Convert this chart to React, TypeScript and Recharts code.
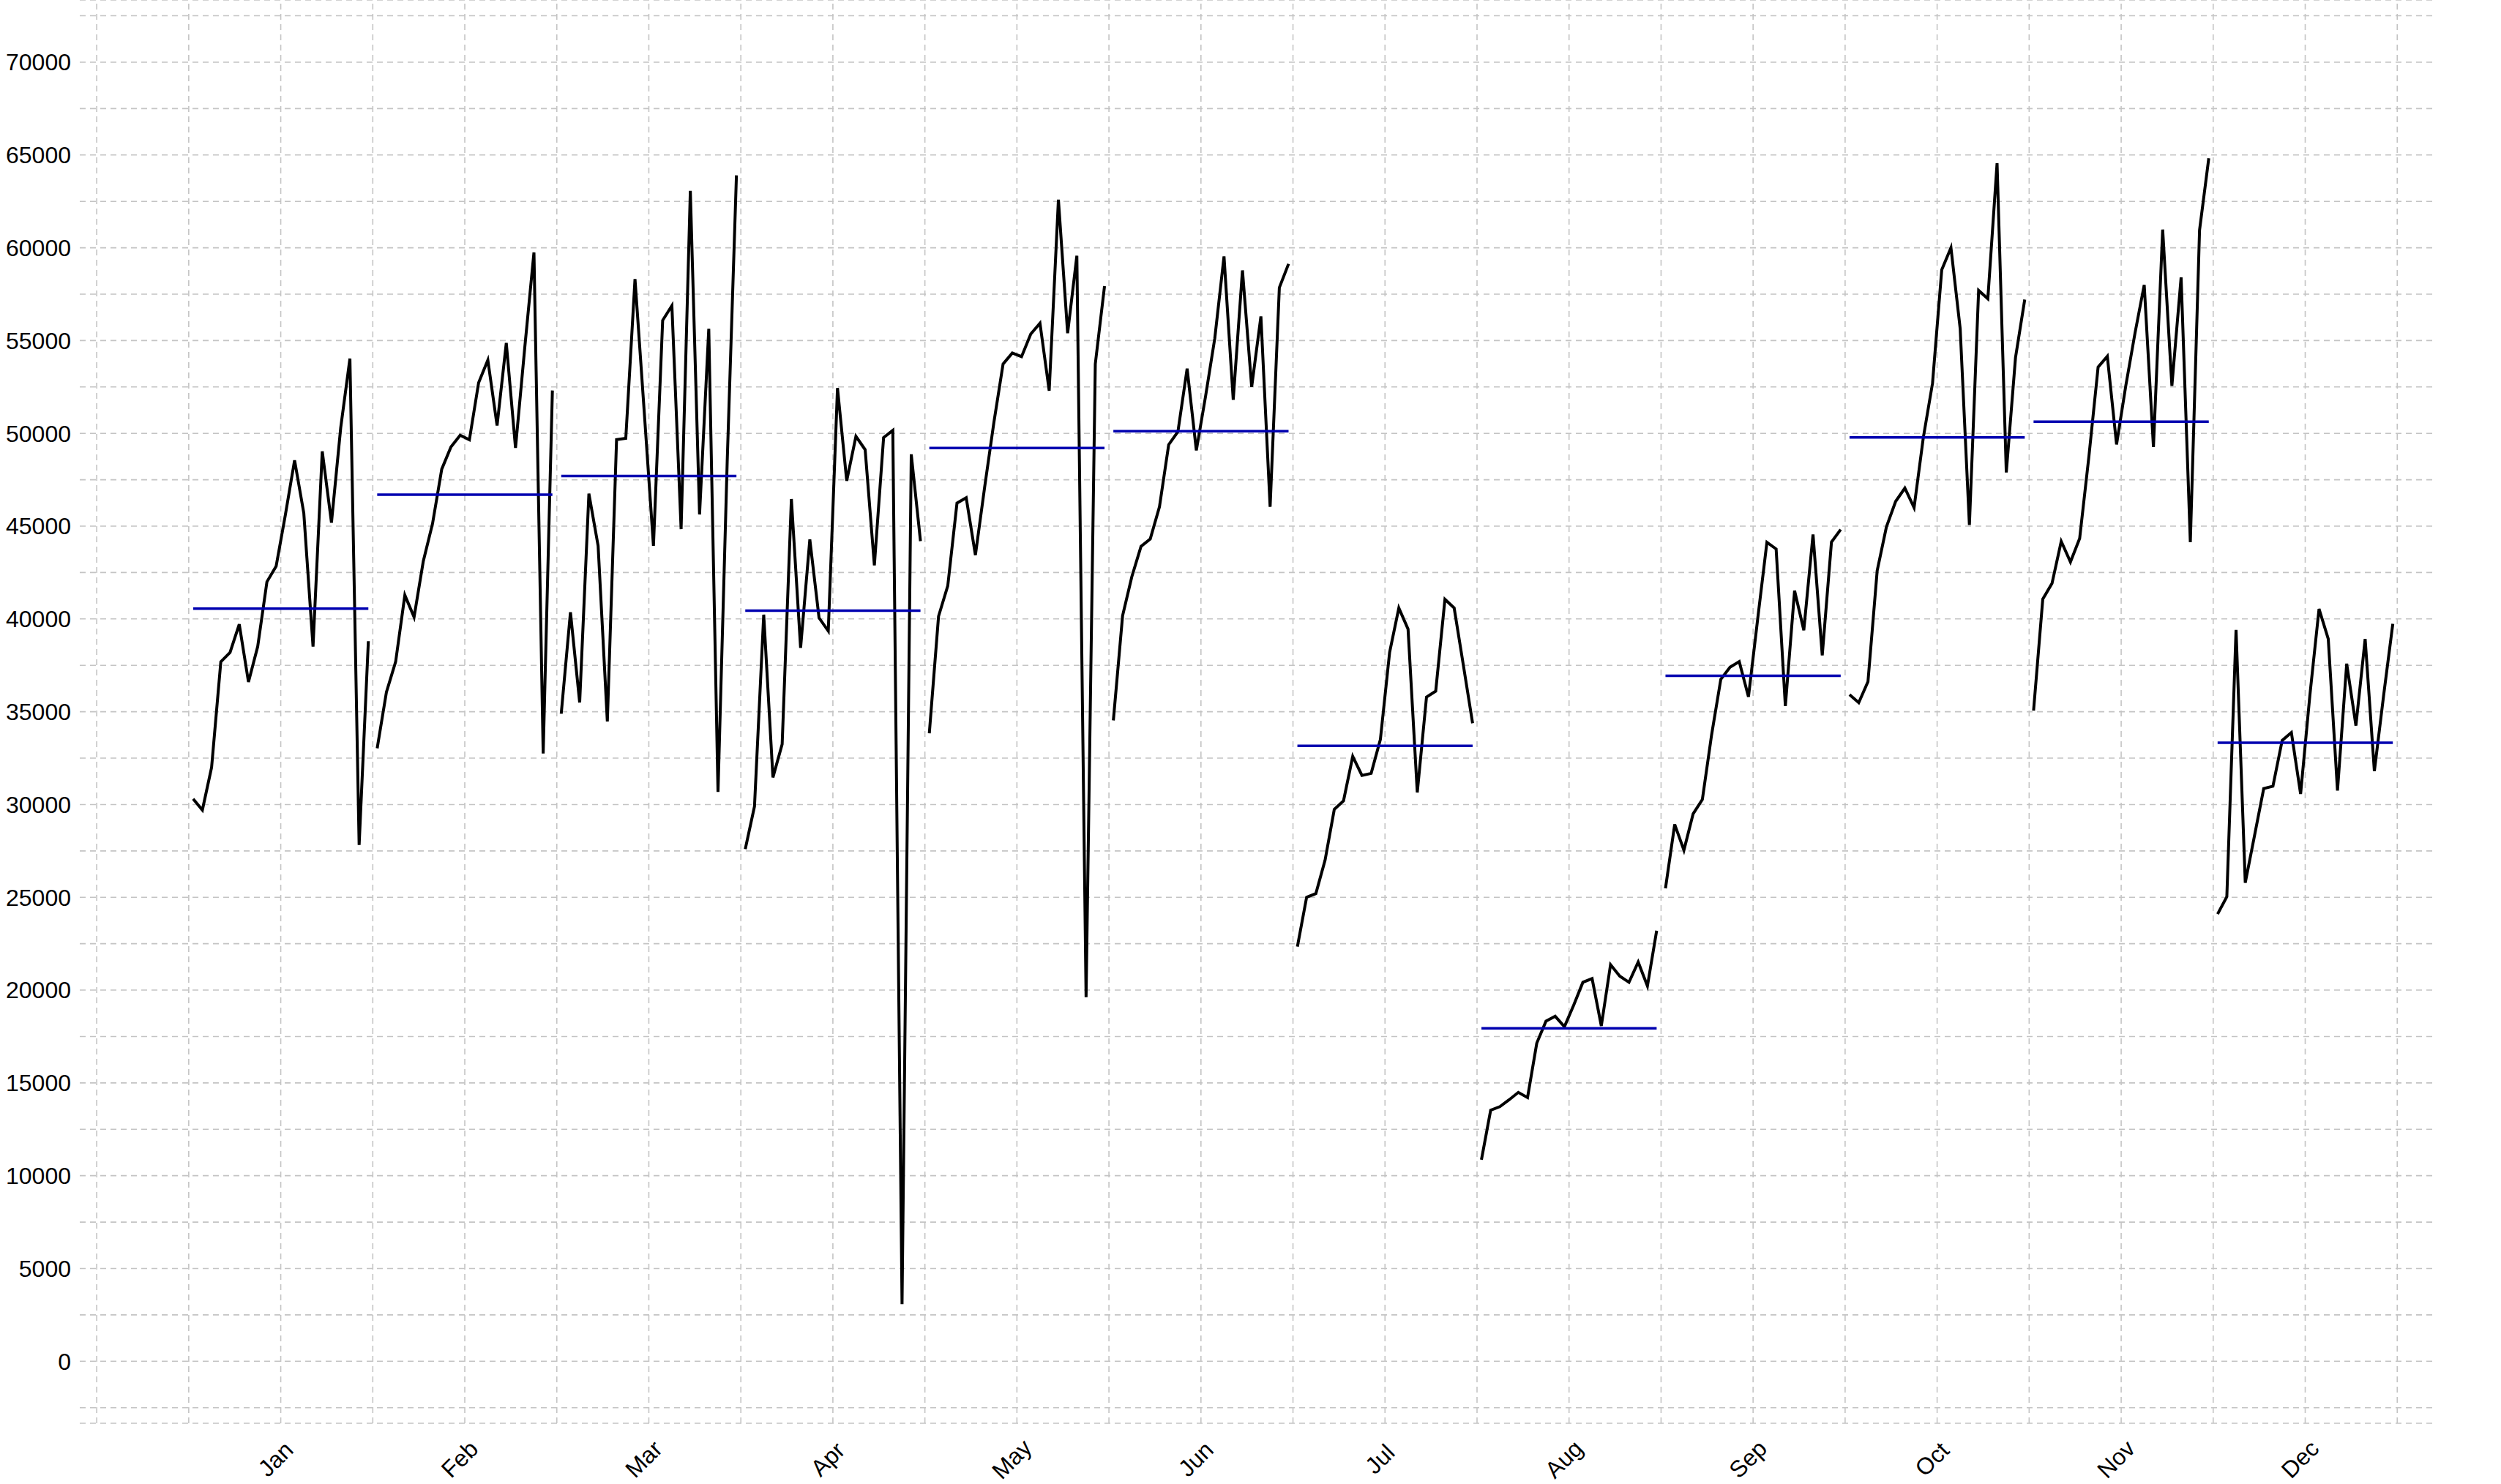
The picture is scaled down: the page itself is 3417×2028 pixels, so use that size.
import { LineChart, Line, XAxis, YAxis, CartesianGrid, ReferenceLine } from "recharts";

const monthNames = ["Jan", "Feb", "Mar", "Apr", "May", "Jun", "Jul", "Aug", "Sep", "Oct", "Nov", "Dec"];

// daily values per month
const jan = [30300, 29700, 32000, 37690, 38190, 39710, 36600, 38510, 42000, 42840, 45610, 48550, 45700, 38510, 49030, 45190, 50290, 54030, 27820, 38800];
const feb = [33030, 36050, 37690, 41280, 40100, 43110, 45130, 48070, 49270, 49900, 49650, 52730, 53950, 50420, 54870, 49220, 54600, 59750, 32750, 52310];
const mar = [34890, 40360, 35500, 46750, 43940, 34480, 49660, 49730, 58310, 51170, 43940, 56090, 56880, 44840, 63070, 45630, 55630, 30680, 48500, 63900];
const apr = [27600, 29900, 40230, 31460, 33250, 46460, 38440, 44280, 40060, 39350, 52440, 47440, 49840, 49120, 42890, 49770, 50160, 3080, 48870, 44190];
const may = [33840, 40140, 41780, 46240, 46530, 43440, 47100, 50580, 53740, 54330, 54130, 55350, 55930, 52300, 62590, 55400, 59570, 19620, 53740, 57930];
const jun = [34530, 40170, 42270, 43910, 44310, 46040, 49390, 50090, 53490, 49080, 52000, 55120, 59530, 51810, 58780, 52500, 56300, 46040, 57850, 59130];
const jul = [22340, 25000, 25200, 27000, 29740, 30200, 32590, 31570, 31680, 33510, 38200, 40590, 39450, 30650, 35790, 36110, 41060, 40590, 37500, 34380];
const aug = [10860, 13530, 13720, 14090, 14490, 14210, 17140, 18330, 18590, 18030, 19180, 20420, 20620, 18070, 21370, 20750, 20420, 21510, 20220, 23200];
const sep = [25480, 28930, 27540, 29500, 30270, 33750, 36750, 37400, 37700, 35800, 40000, 44130, 43770, 35310, 41520, 39390, 44550, 38040, 44140, 44820];
const oct = [35920, 35490, 36620, 42600, 44960, 46330, 47050, 46000, 49760, 52700, 58810, 60000, 55650, 45060, 57700, 57250, 64550, 47890, 54080, 57210];
const nov = [35060, 41070, 41910, 44180, 43070, 44340, 48750, 53570, 54150, 49400, 52560, 55400, 58000, 49260, 60980, 52560, 58400, 44140, 60950, 64820];
const dec = [24100, 25030, 39410, 25780, 28320, 30860, 30990, 33450, 33880, 30570, 35860, 40540, 38920, 30750, 37590, 34250, 38920, 31800, 35860, 39740];

const monthValues = [jan, feb, mar, apr, may, jun, jul, aug, sep, oct, nov, dec];

const xTicks = [0, 0.5, 1, 1.5, 2, 2.5, 3, 3.5, 4, 4.5, 5, 5.5, 6, 6.5, 7, 7.5, 8, 8.5, 9, 9.5, 10, 10.5, 11, 11.5, 12, 12.5];
const yTicks = [
  -2500, 0, 2500, 5000, 7500, 10000, 12500, 15000, 17500, 20000, 22500, 25000, 27500, 30000, 32500, 35000,
  37500, 40000, 42500, 45000, 47500, 50000, 52500, 55000, 57500, 60000, 62500, 65000, 67500, 70000, 72500,
];

// width of one month's sub-series, in month units
const SPREAD = 0.952;

const series = monthValues.map((vals, i) => {
  const m = i + 1;
  const n = vals.length;
  const points = vals.map((y, j) => ({ x: m + (j / (n - 1) - 0.5) * SPREAD, y }));
  const mean = vals.reduce((a, b) => a + b, 0) / n;
  const meanLine = [
    { x: m - SPREAD / 2, y: mean },
    { x: m + SPREAD / 2, y: mean },
  ];
  return { points, meanLine };
});

const FONT = "'Liberation Sans', Arial, sans-serif";
const GRID = "#c4c4c4";

const MonthTick = (props: any) => {
  const { x, y, payload } = props;
  const v = payload.value;
  if (!Number.isInteger(v) || v < 1 || v > 12) return <g />;
  const cx = x - 7;
  const cy = y + 49;
  return (
    <text
      x={cx}
      y={cy}
      transform={`rotate(-45 ${cx} ${cy})`}
      textAnchor="middle"
      dominantBaseline="central"
      fontFamily={FONT}
      fontSize={32}
      fill="#000"
    >
      {monthNames[v - 1]}
    </text>
  );
};

export default function App() {
  return (
    <div style={{ position: "absolute", left: 0, top: 0, background: "#fff" }}>
      <LineChart width={3417} height={2028} margin={{ top: 0, right: 94, left: 0, bottom: 0 }}>
        <CartesianGrid stroke={GRID} strokeDasharray="8 6" strokeWidth={1.6} vertical={false} />
        {xTicks.map((t) => (
          <ReferenceLine key={`vx${t}`} x={t} stroke={GRID} strokeDasharray="8 6" strokeWidth={1.6} />
        ))}
        <XAxis
          type="number"
          dataKey="x"
          domain={[-0.092, 12.69]}
          ticks={xTicks}
          interval={0}
          height={83}
          axisLine={false}
          tickLine={false}
          tickSize={0}
          tickMargin={0}
          tick={<MonthTick />}
        />
        <YAxis
          type="number"
          domain={[-3340, 73350]}
          ticks={yTicks}
          interval={0}
          width={109}
          axisLine={false}
          tickLine={false}
          tickSize={0}
          tickMargin={12}
          tickFormatter={(v: number) => (v >= 0 && v % 5000 === 0 ? String(v) : "")}
          tick={{ fontFamily: FONT, fontSize: 32, fill: "#000" }}
        />
        {series.map((s, i) => (
          <Line
            key={`m${i}`}
            data={s.points}
            dataKey="y"
            type="linear"
            stroke="#000000"
            strokeWidth={4}
            dot={false}
            activeDot={false}
            isAnimationActive={false}
          />
        ))}
        {series.map((s, i) => (
          <Line
            key={`avg${i}`}
            data={s.meanLine}
            dataKey="y"
            type="linear"
            stroke="#0000b0"
            strokeWidth={3.5}
            dot={false}
            activeDot={false}
            isAnimationActive={false}
          />
        ))}
      </LineChart>
    </div>
  );
}
